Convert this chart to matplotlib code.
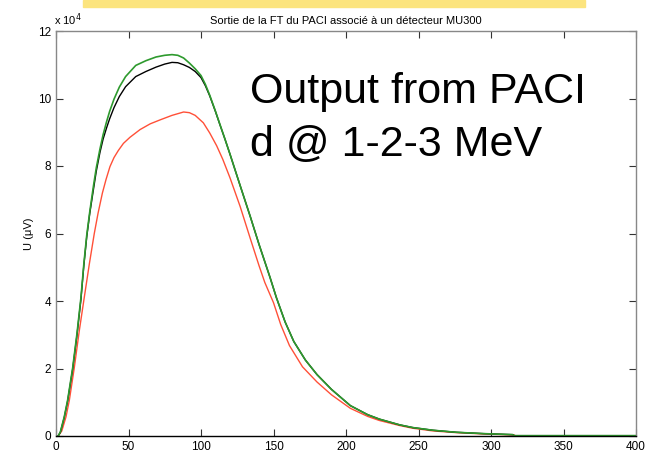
import matplotlib
matplotlib.use("Agg")
import matplotlib.pyplot as plt
from matplotlib.patches import Rectangle

plt.rcParams['font.family'] = ['Liberation Sans', 'DejaVu Sans']

# Data (y in units of 1e4 µV)
green_x = [0, 1.5, 3, 5.7, 8, 11.5, 14.5, 17.2, 19.2, 21.2, 23.3, 25.8, 27.8, 30.3, 32.5, 34.8, 37,
           40, 43.7, 48, 55, 62, 69, 75, 80, 84, 88, 92, 96, 100, 103,
           106, 110, 113, 116.5, 120, 127, 134, 140, 147.6, 152, 158, 164, 172, 180, 190, 203, 215,
           223, 237, 246, 260, 276, 295, 315, 316, 400]
green_y = [0, 0.0, 0.12, 0.57, 1.06, 2.02, 3.05, 4.1, 5.1, 5.95, 6.65, 7.4, 7.95, 8.5, 8.93, 9.3, 9.62,
           9.98, 10.34, 10.65, 10.98, 11.12, 11.23, 11.28, 11.3, 11.28, 11.2, 11.05, 10.88, 10.68, 10.42,
           10.1, 9.62, 9.24, 8.8, 8.35, 7.42, 6.5, 5.68, 4.7, 4.1, 3.38, 2.8, 2.25, 1.82, 1.38, 0.9, 0.63,
           0.5, 0.33, 0.25, 0.17, 0.11, 0.07, 0.04, 0.01, 0.01]

black_x = [0, 1.5, 3, 5.7, 8, 11.5, 14.5, 17.2, 19.2, 21.2, 23.3, 25.8, 27.8, 30.3, 32.5, 34.8, 37,
           40, 43.7, 48, 55, 62, 69, 75, 80, 84, 88, 92, 96, 100, 103,
           106, 110, 113, 116.5, 120, 127, 134, 140, 147.6, 152, 158, 164, 172, 180, 190, 203, 215,
           223, 237, 246, 260, 276, 295, 315, 316, 400]
black_y = [0, 0.0, 0.11, 0.55, 1.03, 1.98, 3.0, 4.05, 5.05, 5.9, 6.6, 7.3, 7.85, 8.4, 8.8, 9.12, 9.4,
           9.73, 10.06, 10.35, 10.65, 10.8, 10.93, 11.02, 11.07, 11.06, 11.0, 10.92, 10.8, 10.62, 10.38,
           10.08, 9.61, 9.23, 8.8, 8.35, 7.42, 6.5, 5.68, 4.7, 4.1, 3.38, 2.8, 2.25, 1.82, 1.38, 0.9, 0.63,
           0.5, 0.33, 0.25, 0.17, 0.11, 0.07, 0.04, 0.01, 0.01]

red_x = [0, 1.5, 4, 6.9, 9.2, 12.6, 16, 19.3, 23, 26.4, 29, 32, 34.5, 37.2, 40, 43, 46.5, 51, 58,
         65, 72, 80, 88, 92, 96, 101.6, 106, 110.8, 115, 120, 127, 134, 140, 144, 150, 155, 161, 170,
         180, 190, 203, 215, 223, 237, 246, 260, 276, 295, 316, 317, 400]
red_y = [0, 0.0, 0.15, 0.57, 1.06, 2.02, 3.1, 4.05, 5.1, 6.0, 6.6, 7.2, 7.6, 7.98, 8.25, 8.46, 8.67,
         8.85, 9.08, 9.25, 9.37, 9.5, 9.6, 9.58, 9.5, 9.28, 8.98, 8.6, 8.2, 7.65, 6.8, 5.85, 5.05, 4.55,
         3.95, 3.3, 2.68, 2.05, 1.6, 1.22, 0.82, 0.58, 0.46, 0.31, 0.23, 0.15, 0.1, 0.06, 0.03, 0.0, 0.0]

x_ticks = [0, 50, 100, 150, 200, 250, 300, 350, 400]
y_ticks = [0, 2, 4, 6, 8, 10, 12]

W, H = 647, 457
fig = plt.figure(figsize=(W / 100, H / 100), dpi=100)
ax = fig.add_axes([56 / W, 1 - 436 / H, 580 / W, 405 / H])

ax.plot(red_x, red_y, color='#ff5038', lw=1.0)
ax.plot(black_x, black_y, color='black', lw=1.0)
ax.plot(green_x, green_y, color='#2e9a2e', lw=1.2)

ax.set_xlim(0, 400)
ax.set_ylim(0, 12)
ax.set_xticks(x_ticks)
ax.set_yticks(y_ticks)
ax.tick_params(direction='in', top=True, right=True, labelsize=8.5, length=5, width=0.8,
               colors='#333333', labelcolor='black')
for s in ['left', 'right', 'top']:
    ax.spines[s].set_color('#888888')
ax.spines['bottom'].set_color('black')
for s in ax.spines.values():
    s.set_linewidth(1.0)

ax.set_title('Sortie de la FT du PACI associé à un détecteur MU300', fontsize=8, pad=5)
ax.set_ylabel('U (μV)', fontsize=8, labelpad=3)

fig.text(54 / W, 1 - 20 / H, 'x 10$^4$', fontsize=8, ha='left', va='center')

fig.text(250 / W, 1 - 103 / H, 'Output from PACI', fontsize=31, ha='left', va='baseline')
fig.text(250 / W, 1 - 156 / H, 'd @ 1-2-3 MeV', fontsize=31, ha='left', va='baseline')

fig.patches.append(Rectangle((83 / W, 1 - 7 / H), (585 - 83) / W, 7 / H,
                             transform=fig.transFigure, color='#fce47e', zorder=0))

fig.savefig('out.png', dpi=100)
